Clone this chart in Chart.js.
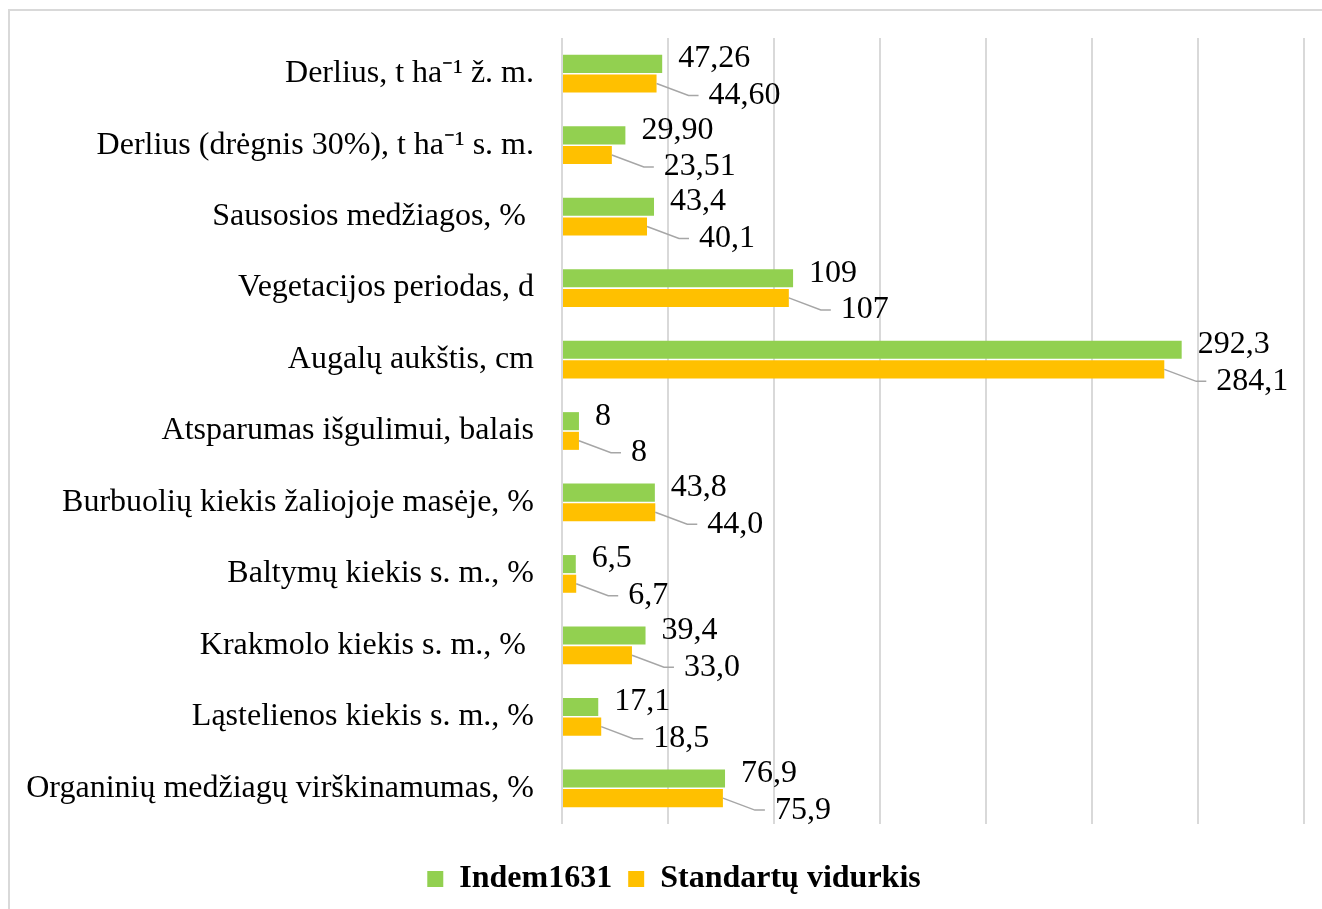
<!DOCTYPE html>
<html>
<head>
<meta charset="utf-8">
<script src="https://cdn.jsdelivr.net/npm/chart.js@4"></script>
<style>
  html, body { margin: 0; padding: 0; background: #fff; overflow: hidden; }
  #wrap { position: relative; width: 1322px; height: 909px; }
  #frame { position: absolute; left: 8px; top: 9px; width: 1400px; height: 1000px;
           border: 2px solid #d9d9d9; box-sizing: border-box; pointer-events: none; }
  canvas { position: absolute; left: 0; top: 0; }
</style>
</head>
<body>
<div id="wrap">
  <canvas id="c" width="1322" height="909"></canvas>
  <div id="frame"></div>
</div>
<script>
const categories = [
  "Derlius, t ha\u207B\u00B9 ž. m.",
  "Derlius (drėgnis 30%), t ha\u207B\u00B9 s. m.",
  "Sausosios medžiagos, % ",
  "Vegetacijos periodas, d",
  "Augalų aukštis, cm",
  "Atsparumas išgulimui, balais",
  "Burbuolių kiekis žaliojoje masėje, %",
  "Baltymų kiekis s. m., %",
  "Krakmolo kiekis s. m., % ",
  "Ląstelienos kiekis s. m., %",
  "Organinių medžiagų virškinamumas, %"
];
const seriesNames = ["Indem1631", "Standartų vidurkis"];
const indemValues = [47.26, 29.90, 43.4, 109, 292.3, 8, 43.8, 6.5, 39.4, 17.1, 76.9];
const standardValues = [44.60, 23.51, 40.1, 107, 284.1, 8, 44.0, 6.7, 33.0, 18.5, 75.9];
const labelDecimals = [2, 2, 1, 0, 1, 0, 1, 1, 1, 1, 1];
const axisMin = 0, axisMax = 350, axisStep = 50;

const FONT = "'Liberation Serif', 'Times New Roman', serif";
const FS = 32;

function fmt(v, d) { return v.toFixed(d).replace('.', ','); }

const labelPlugin = {
  id: 'valueLabels',
  afterDatasetsDraw(chart) {
    const ctx = chart.ctx;
    ctx.save();
    ctx.font = FS + "px " + FONT;
    ctx.fillStyle = "#000";
    ctx.textBaseline = "middle";
    ctx.textAlign = "left";
    chart.data.datasets.forEach((ds, di) => {
      const meta = chart.getDatasetMeta(di);
      meta.data.forEach((bar, i) => {
        const txt = fmt(ds.data[i], labelDecimals[i]);
        if (di === 0) {
          ctx.fillText(txt, bar.x + 16, bar.y - 5);
        } else {
          const dx = 48, dy = 12;
          ctx.strokeStyle = "#a6a6a6";
          ctx.lineWidth = 1.5;
          ctx.beginPath();
          ctx.moveTo(bar.x, bar.y);
          ctx.lineTo(bar.x + dx - 16, bar.y + dy);
          ctx.lineTo(bar.x + dx - 6, bar.y + dy);
          ctx.stroke();
          ctx.fillText(txt, bar.x + dx + 4, bar.y + dy);
        }
      });
    });
    ctx.restore();
  }
};

const legendShift = {
  id: 'legendShift',
  afterLayout(chart) {
    if (chart.legend) { chart.legend.left += 22; chart.legend.right += 22; }
  }
};

new Chart(document.getElementById('c'), {
  type: 'bar',
  data: {
    labels: categories,
    datasets: [
      { label: seriesNames[0], data: indemValues, backgroundColor: '#92D050',
        barPercentage: 0.92, categoryPercentage: 0.55 },
      { label: seriesNames[1], data: standardValues, backgroundColor: '#FFC000',
        barPercentage: 0.92, categoryPercentage: 0.55 }
    ]
  },
  options: {
    indexAxis: 'y',
    responsive: false,
    animation: false,
    devicePixelRatio: 1,
    layout: { padding: { top: 38, right: 18, bottom: 4, left: 0 } },
    scales: {
      x: {
        min: axisMin, max: axisMax,
        ticks: { display: false, stepSize: axisStep },
        grid: { color: '#d9d9d9', lineWidth: 2, drawTicks: false },
        border: { display: false },
        afterFit(scale) { scale.height = 23; scale.paddingLeft = 0; scale.paddingRight = 0; }
      },
      y: {
        ticks: { color: '#000', font: { family: FONT, size: FS }, padding: 28 },
        grid: { display: false, drawTicks: false },
        border: { display: false },
        afterFit(scale) { scale.width = 562; scale.paddingTop = 0; scale.paddingBottom = 0; }
      }
    },
    plugins: {
      legend: {
        position: 'bottom',
        labels: {
          color: '#000',
          font: { family: FONT, size: FS, weight: 'bold' },
          boxWidth: 16, boxHeight: 16, padding: 16
        }
      },
      tooltip: { enabled: false }
    }
  },
  plugins: [labelPlugin, legendShift]
});
</script>
</body>
</html>
